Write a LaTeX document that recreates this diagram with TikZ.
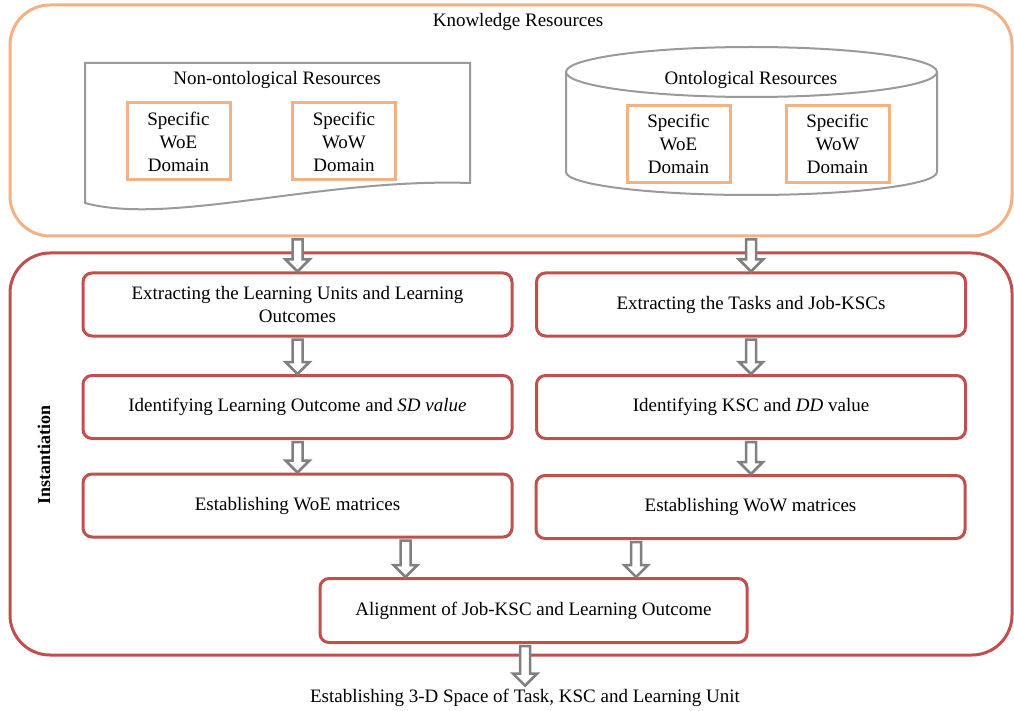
\documentclass[tikz,border=0pt]{standalone}
\usepackage{fontspec}
\setmainfont{Liberation Serif}
\usetikzlibrary{calc}
\definecolor{krorange}{HTML}{F4B183}
\definecolor{instred}{HTML}{C0504D}
\definecolor{arrowgray}{HTML}{808080}
\definecolor{shapegray}{HTML}{9A9A9A}

% hollow downward block arrow from #1 to #2 (x taken from #1)
\newcommand\hollowarrow[2]{%
  \draw[blockarrow] let \p1=#1, \p2=#2 in
    ({\x1-5pt},{\y1-2pt}) -- ({\x1-5pt},{\y2+12pt}) -- ({\x1-12pt},{\y2+12pt})
    -- (\x1,\y2) -- ({\x1+12pt},{\y2+12pt}) -- ({\x1+5pt},{\y2+12pt})
    -- ({\x1+5pt},{\y1-2pt}) -- cycle;}

\begin{document}
\begin{tikzpicture}[x=1pt,y=-1pt,
  font=\fontsize{19}{23}\selectfont,
  panel/.style={draw, line width=3pt, rounded corners=40pt, inner sep=0pt},
  domainbox/.style={draw=krorange, line width=3pt, minimum width=103pt,
    minimum height=77pt, align=center, inner sep=0pt},
  stepbox/.style={draw=instred, line width=3pt, rounded corners=9pt,
    minimum width=429pt, minimum height=63pt, align=center, inner sep=2pt},
  resshape/.style={draw=shapegray, line width=2pt},
  blockarrow/.style={draw=arrowgray, fill=white, line width=2.5pt, line join=miter},
]
\useasboundingbox (0,0) rectangle (1014,711);

% Knowledge resources panel
\node[panel, draw=krorange, minimum width=1002pt, minimum height=231pt] (kr) at (511,120.5) {};
\node (krtitle) at (518,21.5) {Knowledge Resources};

% non-ontological resources (document shape)
\draw[resshape, fill=white] (85,63) -- (470,63) -- (470,183)
  .. controls (320,178) and (170,226) .. (85,203) -- cycle;
\node (nonont) at (277,79.5) {Non-ontological Resources};
\node[domainbox] (nwoe) at (178.5,141.5) {Specific\\WoE\\Domain};
\node[domainbox] (nwow) at (344,141.5) {Specific\\WoW\\Domain};

% ontological resources (cylinder)
\draw[resshape, fill=white] (566,72) -- (566,172)
  arc[start angle=180, end angle=0, x radius=185.5, y radius=23] -- (937,72);
\draw[resshape, fill=white] (751.5,72) ellipse[x radius=185.5, y radius=25];
\node (ont) at (751,79.5) {Ontological Resources};
\node[domainbox] (owoe) at (678.5,144) {Specific\\WoE\\Domain};
\node[domainbox] (owow) at (837.5,144) {Specific\\WoW\\Domain};

% Instantiation panel
\node[panel, draw=instred, minimum width=1002pt, minimum height=402pt] (inst) at (511,454) {};
\node[rotate=90, font=\fontsize{18}{22}\selectfont\bfseries] (insttitle) at (44,455) {Instantiation};

\node[stepbox] (l1) at (297.5,304.5) {Extracting the Learning Units and Learning\\Outcomes};
\node[stepbox] (r1) at (751,304.5) {Extracting the Tasks and Job-KSCs};
\node[stepbox] (l2) at (297.5,407) {Identifying Learning Outcome and \textit{SD value}};
\node[stepbox] (r2) at (751,407) {Identifying KSC and \textit{DD} value};
\node[stepbox] (l3) at (297.5,505.5) {Establishing WoE matrices};
\node[stepbox] (r3) at (750.5,507) {Establishing WoW matrices};
\node[stepbox, minimum width=427pt, minimum height=64pt] (align) at (533.5,610.5)
  {Alignment of Job-KSC and Learning Outcome};
\node (space) at (525,698) {Establishing 3-D Space of Task, KSC and Learning Unit};

\coordinate (woeout) at ($(l3.south)!0.5!(l3.south east)$);
\coordinate (wowout) at ($(r3.south)!0.53!(r3.south west)$);

% connectors
\hollowarrow{(l1.north |- kr.south)}{(l1.north)}
\hollowarrow{(r1.north |- kr.south)}{(r1.north)}
\hollowarrow{(l1.south)}{(l2.north)}
\hollowarrow{(r1.south)}{(r2.north)}
\hollowarrow{(l2.south)}{(l3.north)}
\hollowarrow{(r2.south)}{(r3.north)}
\hollowarrow{(woeout)}{(woeout |- align.north)}
\hollowarrow{(wowout)}{(wowout |- align.north)}
\hollowarrow{(space.north |- align.south)}{(space.north)}
\end{tikzpicture}
\end{document}
